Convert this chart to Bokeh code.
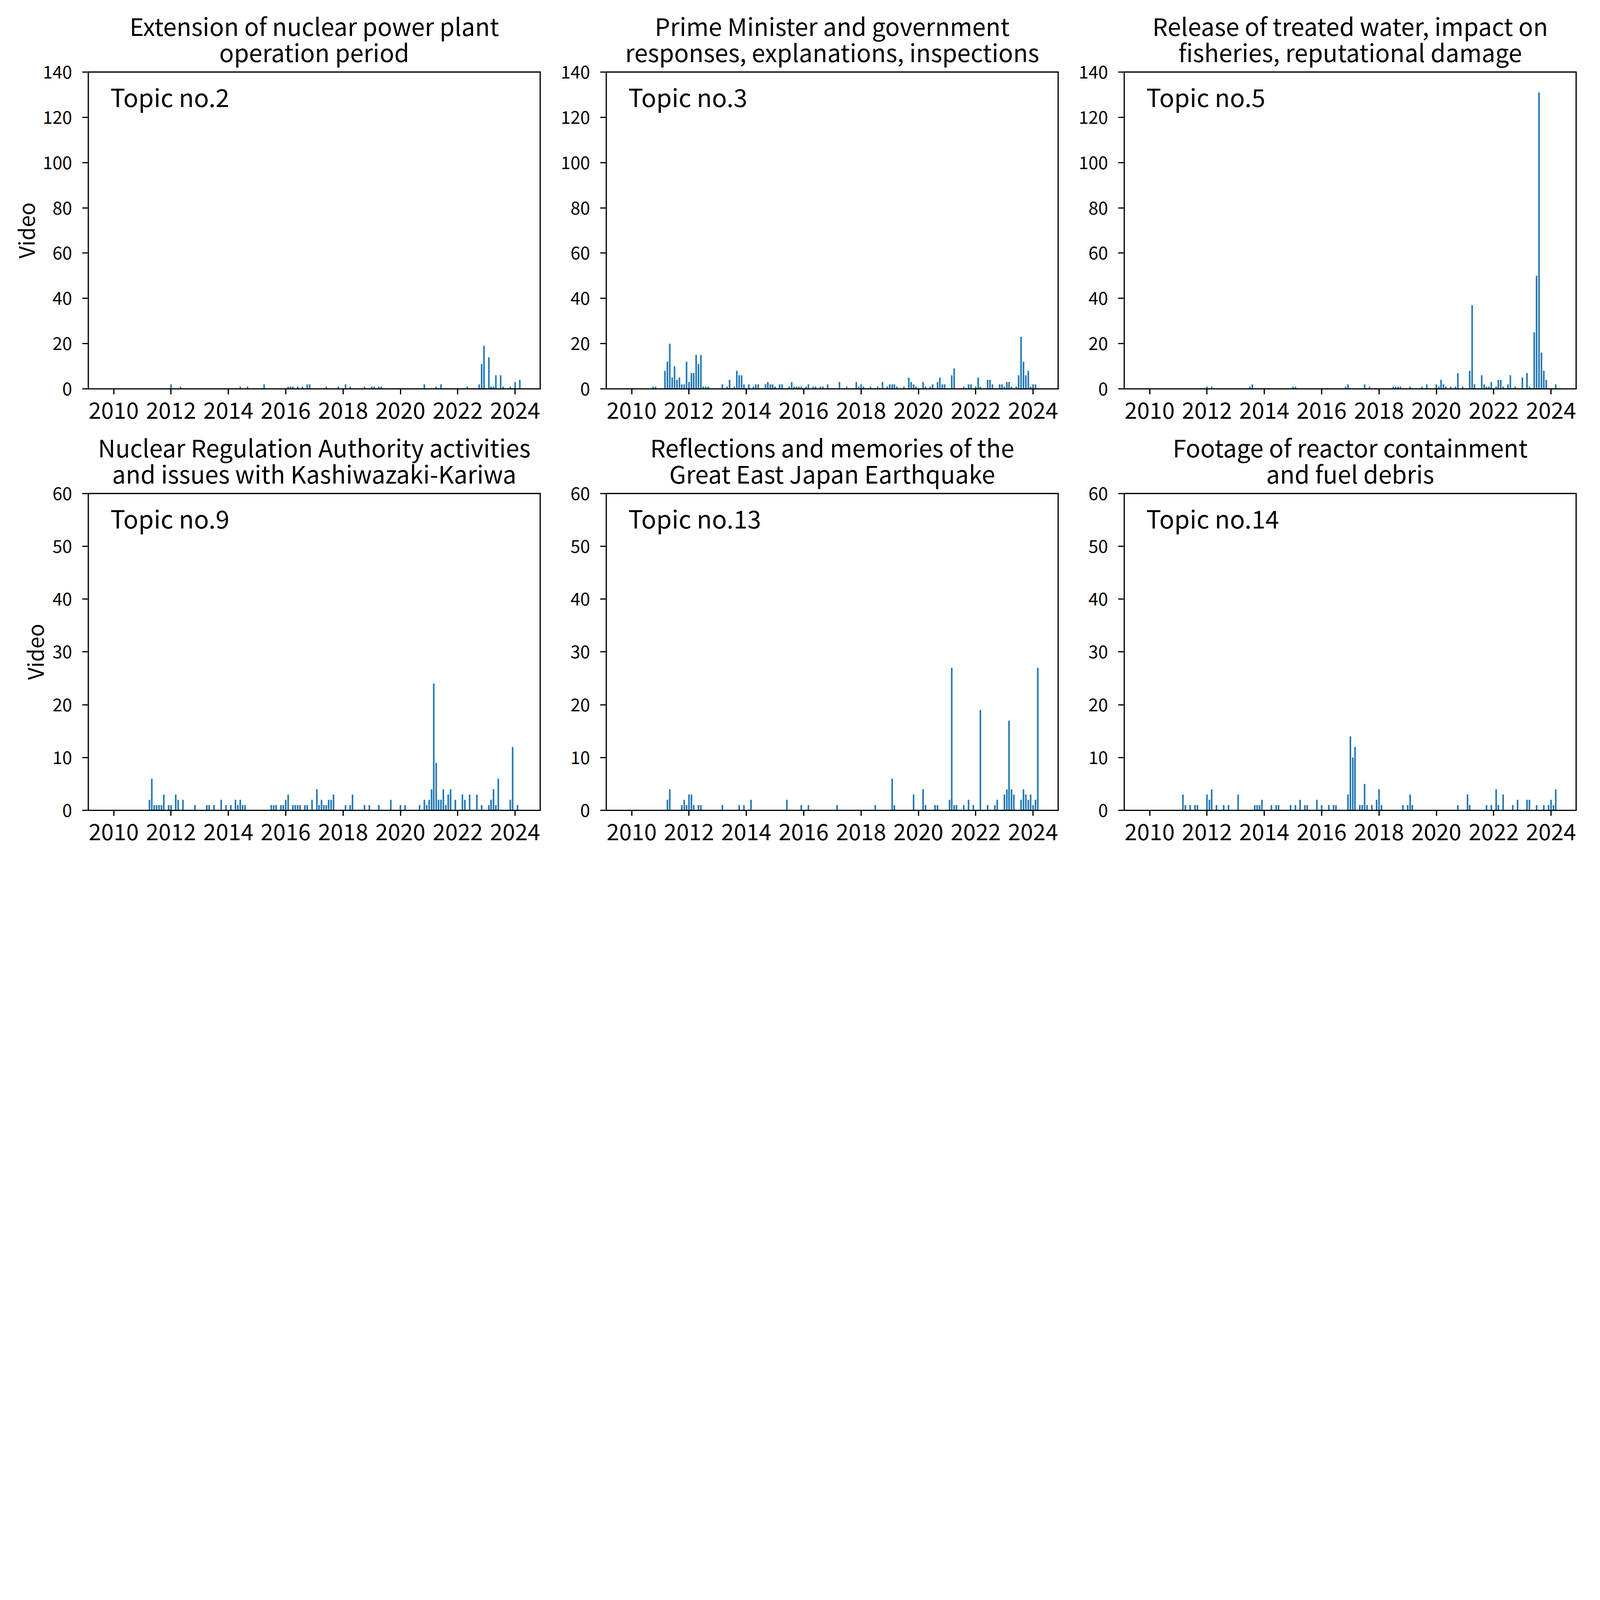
import math
import pandas as pd
from bokeh.plotting import figure
from bokeh.layouts import column, row
from bokeh.models import Label, FixedTicker, DatetimeTickFormatter, Range1d, ColumnDataSource
from bokeh.embed import file_html
from bokeh.resources import INLINE

FONT = "Noto Sans CJK JP"
BAR_COLOR = "#1f77b4"
S = 0.525  # global size factor (reference pixel -> page pixel)

# ---------------- data (monthly video counts) ----------------
topic2_months = ["2012-01", "2012-05", "2014-06", "2014-09", "2015-04", "2016-02", "2016-03", "2016-04",
                 "2016-06", "2016-08", "2016-10", "2016-11", "2017-06", "2017-11", "2018-02", "2018-04",
                 "2018-10", "2019-01", "2019-02", "2019-04", "2019-05", "2020-11", "2021-04", "2021-06",
                 "2022-05", "2022-10", "2022-11", "2022-12", "2023-02", "2023-03", "2023-04", "2023-05",
                 "2023-07", "2023-08", "2023-11", "2024-01", "2024-03"]
topic2_counts = [2, 1, 1, 1, 2, 1, 1, 1,
                 1, 1, 2, 2, 1, 1, 2, 1,
                 1, 1, 1, 1, 1, 2, 1, 2,
                 1, 2, 11, 19, 14, 1, 1, 6,
                 6, 1, 1, 3, 4]

topic3_months = ["2010-10", "2010-11", "2011-03", "2011-04", "2011-05", "2011-06", "2011-07", "2011-08",
                 "2011-09", "2011-10", "2011-11", "2011-12", "2012-01", "2012-02", "2012-03", "2012-04",
                 "2012-05", "2012-06", "2012-07", "2012-08", "2012-09", "2013-03", "2013-05", "2013-06",
                 "2013-08", "2013-09", "2013-10", "2013-11", "2013-12", "2014-02", "2014-04", "2014-05",
                 "2014-06", "2014-09", "2014-10", "2014-11", "2014-12", "2015-01", "2015-03", "2015-04",
                 "2015-07", "2015-08", "2015-09", "2015-10", "2015-11", "2015-12", "2016-02", "2016-03",
                 "2016-05", "2016-06", "2016-08", "2016-09", "2016-11", "2017-04", "2017-07", "2017-11",
                 "2017-12", "2018-01", "2018-02", "2018-05", "2018-08", "2018-10", "2018-12", "2019-01",
                 "2019-02", "2019-03", "2019-04", "2019-07", "2019-09", "2019-10", "2019-11", "2019-12",
                 "2020-03", "2020-04", "2020-06", "2020-07", "2020-09", "2020-10", "2020-11", "2020-12",
                 "2021-03", "2021-04", "2021-08", "2021-10", "2021-11", "2022-01", "2022-02", "2022-03",
                 "2022-06", "2022-07", "2022-08", "2022-11", "2022-12", "2023-01", "2023-02", "2023-03",
                 "2023-04", "2023-06", "2023-07", "2023-08", "2023-09", "2023-10", "2023-11", "2023-12",
                 "2024-01", "2024-02"]
topic3_counts = [1, 1, 8, 12, 20, 5, 10, 4,
                 5, 2, 2, 12, 3, 7, 7, 15,
                 11, 15, 1, 1, 1, 2, 1, 4,
                 1, 8, 6, 6, 2, 2, 1, 2,
                 2, 2, 3, 2, 2, 1, 2, 2,
                 1, 3, 1, 1, 1, 1, 1, 2,
                 1, 1, 1, 1, 2, 3, 1, 3,
                 1, 2, 1, 1, 1, 3, 1, 2,
                 2, 2, 1, 1, 5, 3, 2, 1,
                 3, 1, 1, 2, 3, 5, 2, 2,
                 6, 9, 1, 2, 2, 1, 5, 1,
                 4, 4, 2, 2, 2, 1, 3, 3,
                 1, 1, 6, 23, 12, 6, 8, 1,
                 2, 2]

topic5_months = ["2012-01", "2012-03", "2013-07", "2013-08", "2015-01", "2015-02", "2016-11", "2016-12",
                 "2017-07", "2017-09", "2018-07", "2018-08", "2018-09", "2018-10", "2019-02", "2019-07",
                 "2019-09", "2020-01", "2020-02", "2020-03", "2020-04", "2020-05", "2020-07", "2020-09",
                 "2020-10", "2020-12", "2021-03", "2021-04", "2021-05", "2021-08", "2021-09", "2021-10",
                 "2021-11", "2021-12", "2022-02", "2022-03", "2022-04", "2022-05", "2022-07", "2022-08",
                 "2022-10", "2023-01", "2023-03", "2023-04", "2023-06", "2023-07", "2023-08", "2023-09",
                 "2023-10", "2023-11", "2024-03"]
topic5_counts = [1, 1, 1, 2, 1, 1, 1, 2,
                 2, 1, 1, 1, 1, 1, 1, 1,
                 2, 2, 1, 4, 2, 1, 1, 1,
                 7, 1, 8, 37, 2, 6, 2, 1,
                 1, 3, 1, 4, 4, 1, 2, 6,
                 1, 5, 7, 1, 25, 50, 131, 16,
                 8, 4, 2]

topic9_months = ["2011-04", "2011-05", "2011-06", "2011-07", "2011-08", "2011-09", "2011-10", "2011-12",
                 "2012-01", "2012-03", "2012-04", "2012-06", "2012-11", "2013-04", "2013-05", "2013-07",
                 "2013-10", "2013-12", "2014-02", "2014-04", "2014-05", "2014-06", "2014-07", "2014-08",
                 "2015-07", "2015-08", "2015-09", "2015-11", "2015-12", "2016-01", "2016-02", "2016-04",
                 "2016-05", "2016-06", "2016-07", "2016-09", "2016-10", "2016-12", "2017-02", "2017-03",
                 "2017-04", "2017-05", "2017-06", "2017-07", "2017-08", "2017-09", "2018-02", "2018-04",
                 "2018-05", "2018-10", "2018-12", "2019-04", "2019-09", "2020-01", "2020-03", "2020-09",
                 "2020-11", "2020-12", "2021-01", "2021-02", "2021-03", "2021-04", "2021-05", "2021-06",
                 "2021-07", "2021-08", "2021-09", "2021-10", "2021-12", "2022-03", "2022-04", "2022-06",
                 "2022-09", "2022-11", "2023-02", "2023-03", "2023-04", "2023-05", "2023-06", "2023-11",
                 "2023-12", "2024-02"]
topic9_counts = [2, 6, 1, 1, 1, 1, 3, 1,
                 1, 3, 2, 2, 1, 1, 1, 1,
                 2, 1, 1, 2, 1, 2, 1, 1,
                 1, 1, 1, 1, 1, 2, 3, 1,
                 1, 1, 1, 1, 1, 2, 4, 1,
                 2, 1, 1, 2, 2, 3, 1, 1,
                 3, 1, 1, 1, 2, 1, 1, 1,
                 2, 1, 2, 4, 24, 9, 2, 2,
                 4, 1, 3, 4, 2, 3, 2, 3,
                 3, 1, 1, 2, 4, 1, 6, 2,
                 12, 1]

topic13_months = ["2011-04", "2011-05", "2011-10", "2011-11", "2011-12", "2012-01", "2012-02", "2012-03",
                  "2012-05", "2012-06", "2013-03", "2013-10", "2013-12", "2014-03", "2015-06", "2015-12",
                  "2016-03", "2017-03", "2018-07", "2019-02", "2019-03", "2019-11", "2020-03", "2020-04",
                  "2020-08", "2020-09", "2021-02", "2021-03", "2021-04", "2021-05", "2021-08", "2021-10",
                  "2021-12", "2022-03", "2022-06", "2022-09", "2022-10", "2023-01", "2023-02", "2023-03",
                  "2023-04", "2023-05", "2023-08", "2023-09", "2023-10", "2023-11", "2023-12", "2024-01",
                  "2024-02", "2024-03"]
topic13_counts = [2, 4, 1, 2, 1, 3, 3, 1,
                  1, 1, 1, 1, 1, 2, 2, 1,
                  1, 1, 1, 6, 1, 3, 4, 1,
                  1, 1, 2, 27, 1, 1, 1, 2,
                  1, 19, 1, 1, 2, 3, 4, 17,
                  4, 3, 2, 4, 3, 2, 3, 1,
                  2, 27]

topic14_months = ["2011-03", "2011-04", "2011-06", "2011-08", "2011-09", "2012-01", "2012-02", "2012-03",
                  "2012-05", "2012-08", "2012-10", "2013-02", "2013-09", "2013-10", "2013-11", "2013-12",
                  "2014-04", "2014-06", "2014-07", "2014-12", "2015-02", "2015-04", "2015-06", "2015-07",
                  "2015-11", "2016-01", "2016-04", "2016-06", "2016-07", "2016-12", "2017-01", "2017-02",
                  "2017-03", "2017-05", "2017-06", "2017-07", "2017-08", "2017-10", "2017-12", "2018-01",
                  "2018-02", "2018-11", "2019-01", "2019-02", "2019-03", "2020-10", "2021-02", "2021-03",
                  "2021-10", "2021-12", "2022-02", "2022-03", "2022-05", "2022-09", "2022-11", "2023-03",
                  "2023-04", "2023-07", "2023-10", "2023-12", "2024-01", "2024-02", "2024-03"]
topic14_counts = [3, 1, 1, 1, 1, 3, 2, 4,
                  1, 1, 1, 3, 1, 1, 1, 2,
                  1, 1, 1, 1, 1, 2, 1, 1,
                  2, 1, 1, 1, 1, 3, 14, 10,
                  12, 1, 1, 5, 1, 1, 2, 4,
                  1, 1, 1, 3, 1, 1, 3, 1,
                  1, 1, 4, 1, 3, 1, 2, 2,
                  2, 1, 1, 1, 2, 1, 4]

topic_numbers = [2, 3, 5, 9, 13, 14]
topic_titles = [
    ["Extension of nuclear power plant", "operation period"],
    ["Prime Minister and government", "responses, explanations, inspections"],
    ["Release of treated water, impact on", "fisheries, reputational damage"],
    ["Nuclear Regulation Authority activities", "and issues with Kashiwazaki-Kariwa"],
    ["Reflections and memories of the", "Great East Japan Earthquake"],
    ["Footage of reactor containment", "and fuel debris"],
]
topic_months = [topic2_months, topic3_months, topic5_months, topic9_months, topic13_months, topic14_months]
topic_counts = [topic2_counts, topic3_counts, topic5_counts, topic9_counts, topic13_counts, topic14_counts]
row_ymax = [140, 60]
row_ystep = [20, 10]
year_ticks = [2010, 2012, 2014, 2016, 2018, 2020, 2022, 2024]
y_label = "Video"

# ---------------- layout constants (reference px, scaled by S) ----------------
FRAME_W_REF, BOX_H_REF = 2210, 1545
FRAME_W = round(FRAME_W_REF * S)
TITLE_H_REF = [350, 319]          # title area above each row's plot box (inside the frame)
BORDER_BOTTOM = [190, 200]
LABEL_W_REF = [200, 245]          # strip holding the "Video" label, left of column 1
BORDER_LEFT = [[226, 307, 307], [181, 307, 307]]
BORDER_RIGHT = 10
VIDEO_X_REF = [124, 168]          # centre of the "Video" label inside its strip
TITLE_LINE_TOP = [313, 185]       # distance of each title line's box top above the plot box
DAY_MS = 86400000.0
x_start = pd.Timestamp("2010-01-01").value / 1e6 - 331.5 * DAY_MS
x_end = pd.Timestamp("2024-01-01").value / 1e6 + 327.7 * DAY_MS
tick_ms = [pd.Timestamp(f"{y}-01-01").value / 1e6 for y in year_ticks]


def px(v):
    return f"{v * S:.1f}px"


def make_ylabel_strip(r):
    total = TITLE_H_REF[r] + BOX_H_REF + BORDER_BOTTOM[r]
    f = figure(frame_width=round(LABEL_W_REF[r] * S), frame_height=round(total * S),
               x_range=Range1d(0, LABEL_W_REF[r]), y_range=Range1d(0, total),
               x_axis_location=None, y_axis_location=None,
               output_backend="svg", toolbar_location=None,
               min_border_left=0, min_border_right=0, min_border_top=0, min_border_bottom=0,
               background_fill_color="white", border_fill_color="white")
    f.outline_line_color = None
    f.grid.visible = False
    f.add_layout(Label(x=VIDEO_X_REF[r], y=total - (TITLE_H_REF[r] + BOX_H_REF / 2), text=y_label,
                       angle=math.pi / 2, text_font=FONT, text_font_size=px(104),
                       text_align="center", text_baseline="middle", text_color="black"))
    return f


def make_panel(i):
    r, c = divmod(i, 3)
    ymax = row_ymax[r]
    frame_h = round((BOX_H_REF + TITLE_H_REF[r]) * S)
    y_end = ymax * frame_h / (BOX_H_REF * S)
    p = figure(
        x_axis_type="datetime",
        frame_width=FRAME_W, frame_height=frame_h,
        x_range=Range1d(x_start, x_end), y_range=Range1d(0, y_end),
        output_backend="svg", toolbar_location=None,
        min_border_left=round(BORDER_LEFT[r][c] * S),
        min_border_right=round(BORDER_RIGHT * S),
        min_border_top=0,
        min_border_bottom=round(BORDER_BOTTOM[r] * S),
        background_fill_color="white", border_fill_color="white",
    )
    dates = pd.to_datetime([m + "-01" for m in topic_months[i]])
    src = ColumnDataSource(dict(x=dates, top=topic_counts[i]))
    p.vbar(x="x", top="top", bottom=0, width=20 * DAY_MS, source=src,
           fill_color=BAR_COLOR, line_color=None)

    # plot box (left/right edges sit on the frame edge, so half of their width is clipped)
    p.segment(x0=[x_start, x_end], y0=[0, 0], x1=[x_start, x_end], y1=[ymax, ymax],
              line_color="black", line_width=12 * S)
    p.segment(x0=[x_start], y0=[ymax], x1=[x_end], y1=[ymax],
              line_color="black", line_width=6 * S, line_cap="square")

    p.grid.visible = False
    p.outline_line_color = None

    for ax in (p.xaxis[0], p.yaxis[0]):
        ax.axis_line_width = 6 * S
        ax.axis_line_color = "black"
        ax.major_tick_line_width = 6 * S
        ax.major_tick_line_color = "black"
        ax.major_tick_out = round(27 * S)
        ax.major_tick_in = 0
        ax.minor_tick_line_color = None
        ax.major_label_text_font = FONT
        ax.major_label_text_color = "black"
    p.yaxis.axis_line_color = None

    p.xaxis.ticker = FixedTicker(ticks=tick_ms)
    p.xaxis.formatter = DatetimeTickFormatter(years="%Y", months="%Y", days="%Y", hours="%Y")
    p.xaxis.major_label_text_font_size = px(110)
    p.xaxis.major_label_standoff = round(38 * S)

    p.yaxis.ticker = FixedTicker(ticks=list(range(0, ymax + 1, row_ystep[r])))
    p.yaxis.major_label_text_font_size = px(86)
    p.yaxis.major_label_standoff = round(50 * S)

    # two-line centred title inside the upper part of the frame
    x_mid = (x_start + x_end) / 2
    for txt, top in zip(topic_titles[i], TITLE_LINE_TOP):
        p.add_layout(Label(x=x_mid, y=ymax + top / BOX_H_REF * ymax, text=txt, text_font=FONT,
                           text_font_size=px(118), text_align="center", text_baseline="top",
                           text_color="black"))

    lab_x = x_start + 0.05 * (x_end - x_start)
    lab_y = ymax - 29.0 / BOX_H_REF * ymax
    p.add_layout(Label(x=lab_x, y=lab_y, text=f"Topic no.{topic_numbers[i]}", text_font=FONT,
                       text_font_size=px(121), text_align="left", text_baseline="top",
                       text_color="black"))
    return p


panels = [make_panel(i) for i in range(6)]
layout = column(
    row(make_ylabel_strip(0), *panels[:3], spacing=0),
    row(make_ylabel_strip(1), *panels[3:], spacing=0),
    spacing=0,
)

open("out.html", "w").write(file_html(layout, INLINE))
